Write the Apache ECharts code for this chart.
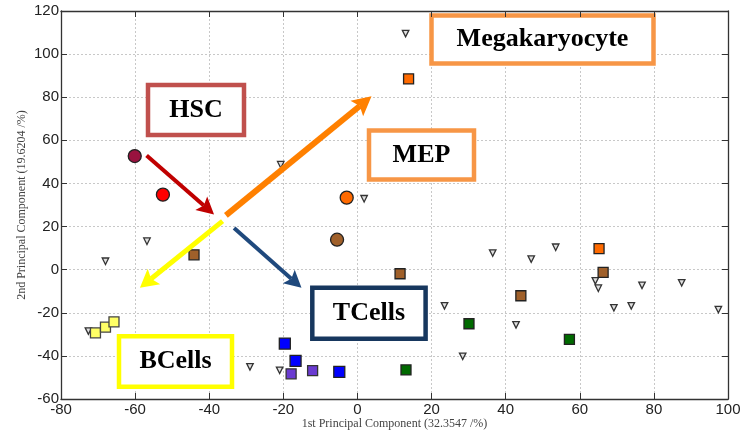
<!DOCTYPE html>
<html>
<head>
<meta charset="utf-8">
<script src="https://cdn.jsdelivr.net/npm/echarts@6/dist/echarts.min.js"></script>
<style>html,body{margin:0;padding:0;background:#fff}#c{width:746px;height:432px}</style>
</head>
<body>
<div id="c"></div>
<script>
// ---- data ----
var xTicks = [-80, -60, -40, -20, 0, 20, 40, 60, 80, 100];
var yTicks = [-60, -40, -20, 0, 20, 40, 60, 80, 100, 120];
var hscDark = [[-60.1, 52.7]];
var hscRed = [[-52.5, 34.8]];
var mepOrange = [[-2.9, 33.4]];
var mepBrown = [[-5.5, 13.9]];
var orangeSquares = [[13.8, 88.5], [65.2, 9.8]];
var brownSquares = [[-44.1, 6.9], [11.5, -1.9], [44.1, -12.1], [66.3, -1.3]];
var yellowSquares = [[-70.7, -29.3], [-68.0, -26.7], [-65.7, -24.2]];
var blueSquares = [[-19.6, -34.3], [-16.7, -42.3], [-4.9, -47.4]];
var purpleSquares = [[-17.9, -48.3], [-12.1, -46.8]];
var greenSquares = [[13.1, -46.5], [30.1, -25.1], [57.2, -32.3]];
var otherCells = [[-20.7, 48.7], [1.8, 32.9], [13.0, 109.5], [-56.8, 13.2], [-68.0, 3.9], [-72.6, -28.5],
  [-29.0, -45.1], [-21.0, -46.7], [23.5, -16.8], [28.4, -40.2], [36.5, 7.7], [46.9, 4.9], [53.5, 10.4],
  [42.8, -25.6], [64.2, -5.2], [65.0, -8.6], [69.2, -17.7], [73.9, -16.8], [76.8, -7.3], [87.5, -6.1], [97.4, -18.5]];
// lineage arrows: [from, tip] in data units
var arrowHSC = [[-56.9, 53.0], [-38.7, 25.6]];
var arrowMega = [[-35.5, 25.2], [3.8, 80.4]];
var arrowB = [[-36.4, 22.5], [-58.7, -8.4]];
var arrowT = [[-33.3, 19.3], [-15.1, -8.4]];

var chart = echarts.init(document.getElementById('c'), null, {renderer: 'canvas'});

function sc(name, data, symbol, size, color, border, bw, rot) {
  return {
    name: name, type: 'scatter', data: data, symbol: symbol, symbolSize: size, symbolRotate: rot || 0,
    itemStyle: {color: color, borderColor: border, borderWidth: bw, opacity: 1},
    silent: true, z: 3
  };
}

var axisCommon = {
  interval: 20,
  axisLine: {show: true, onZero: false, lineStyle: {color: '#333', width: 1.3}},
  axisTick: {show: true, inside: true, length: 6, lineStyle: {color: '#333', width: 1}},
  splitLine: {show: false}
};

var option = {
  animation: false,
  backgroundColor: '#fff',
  grid: {left: 61, right: 18, top: 11, bottom: 33, containLabel: false, outerBoundsMode: 'none'},
  xAxis: [
    Object.assign({}, axisCommon, {
      type: 'value', position: 'bottom', min: xTicks[0], max: xTicks[xTicks.length - 1],
      name: '1st Principal Component (32.3547 /%)', nameLocation: 'middle', nameGap: 19, nameMoveOverlap: false,
      nameTextStyle: {fontFamily: 'Liberation Serif', fontSize: 12, color: '#444'},
      axisLabel: {fontFamily: 'Liberation Sans', fontSize: 15, color: '#222', margin: 3},
      splitLine: {show: true, lineStyle: {color: '#c8c8c8', type: [2, 2], width: 1}}
    }),
    Object.assign({}, axisCommon, {
      type: 'value', position: 'top', min: xTicks[0], max: xTicks[xTicks.length - 1],
      axisLabel: {show: false}
    })
  ],
  yAxis: [
    Object.assign({}, axisCommon, {
      type: 'value', position: 'left', min: yTicks[0], max: yTicks[yTicks.length - 1],
      name: '2nd Principal Component (19.6204 /%)', nameLocation: 'middle', nameGap: 33, nameMoveOverlap: false,
      nameTextStyle: {fontFamily: 'Liberation Serif', fontSize: 12, color: '#444'},
      axisLabel: {fontFamily: 'Liberation Sans', fontSize: 15, color: '#222', margin: 2},
      splitLine: {show: true, lineStyle: {color: '#c8c8c8', type: [2, 2], width: 1}}
    }),
    Object.assign({}, axisCommon, {
      type: 'value', position: 'right', min: yTicks[0], max: yTicks[yTicks.length - 1],
      axisLabel: {show: false}
    })
  ],
  series: [
    sc('others', otherCells, 'triangle', 6.5, '#e0e0e0', '#333', 1.3, 180),
    sc('hscDark', hscDark, 'circle', 13, '#99123f', '#222', 1.3),
    sc('hscRed', hscRed, 'circle', 13, '#ff0000', '#222', 1.3),
    sc('mepOrange', mepOrange, 'circle', 13, '#ff6a00', '#222', 1.3),
    sc('mepBrown', mepBrown, 'circle', 13, '#a0602a', '#222', 1.3),
    sc('orangeSq', orangeSquares, 'rect', 10, '#ff6a00', '#222', 1.3),
    sc('brownSq', brownSquares, 'rect', 10, '#a0602a', '#222', 1.3),
    sc('yellowSq', yellowSquares, 'rect', 10, '#ffff66', '#444', 1.3),
    sc('blueSq', blueSquares, 'rect', 11, '#0000ff', '#222', 1.3),
    sc('purpleSq', purpleSquares, 'rect', 10, '#6a3bd1', '#333', 1.3),
    sc('greenSq', greenSquares, 'rect', 10, '#006a00', '#222', 1.3)
  ]
};
chart.setOption(option);

function arrowGraphic(pts, color, w, L, W) {
  var a = chart.convertToPixel({gridIndex: 0}, pts[0]);
  var b = chart.convertToPixel({gridIndex: 0}, pts[1]);
  var dx = b[0] - a[0], dy = b[1] - a[1];
  var len = Math.sqrt(dx * dx + dy * dy);
  var ux = dx / len, uy = dy / len, nx = -uy, ny = ux;
  var bx = b[0] - ux * L, by = b[1] - uy * L;
  var ex = b[0] - ux * L * 0.8, ey = b[1] - uy * L * 0.8;
  return [
    {type: 'line', z: 50, shape: {x1: a[0], y1: a[1], x2: ex, y2: ey}, style: {stroke: color, lineWidth: w, lineCap: 'butt'}},
    {type: 'polygon', z: 50, shape: {points: [[b[0], b[1]], [bx + nx * W, by + ny * W], [ex, ey], [bx - nx * W, by - ny * W]]}, style: {fill: color}}
  ];
}
function box(x, y, w, h, stroke, text) {
  return {
    type: 'group', x: x, y: y, z: 100,
    children: [
      {type: 'rect', shape: {x: 0, y: 0, width: w, height: h}, style: {fill: '#fff', stroke: stroke, lineWidth: 4.5}},
      {type: 'text', x: w / 2, y: h / 2, style: {text: text, fill: '#000', font: 'bold 26px "Liberation Serif"', align: 'center', verticalAlign: 'middle'}}
    ]
  };
}
var graphics = [].concat(
  arrowGraphic(arrowHSC, '#c00000', 4, 17, 9),
  arrowGraphic(arrowMega, '#ff8000', 6, 19, 10),
  arrowGraphic(arrowB, '#ffff00', 5, 18, 10),
  arrowGraphic(arrowT, '#1f497d', 4, 17, 9),
  [
    box(148, 85, 96, 50, '#c0504d', 'HSC'),
    box(431.5, 15.5, 222, 48, '#f79646', 'Megakaryocyte'),
    box(369, 130.5, 105, 49, '#f79646', 'MEP'),
    box(312.3, 287.8, 113.3, 51, '#17375e', 'TCells'),
    box(119, 336.3, 113, 50.5, '#ffff00', 'BCells')
  ]
);
chart.setOption({graphic: graphics});
</script>
</body>
</html>
